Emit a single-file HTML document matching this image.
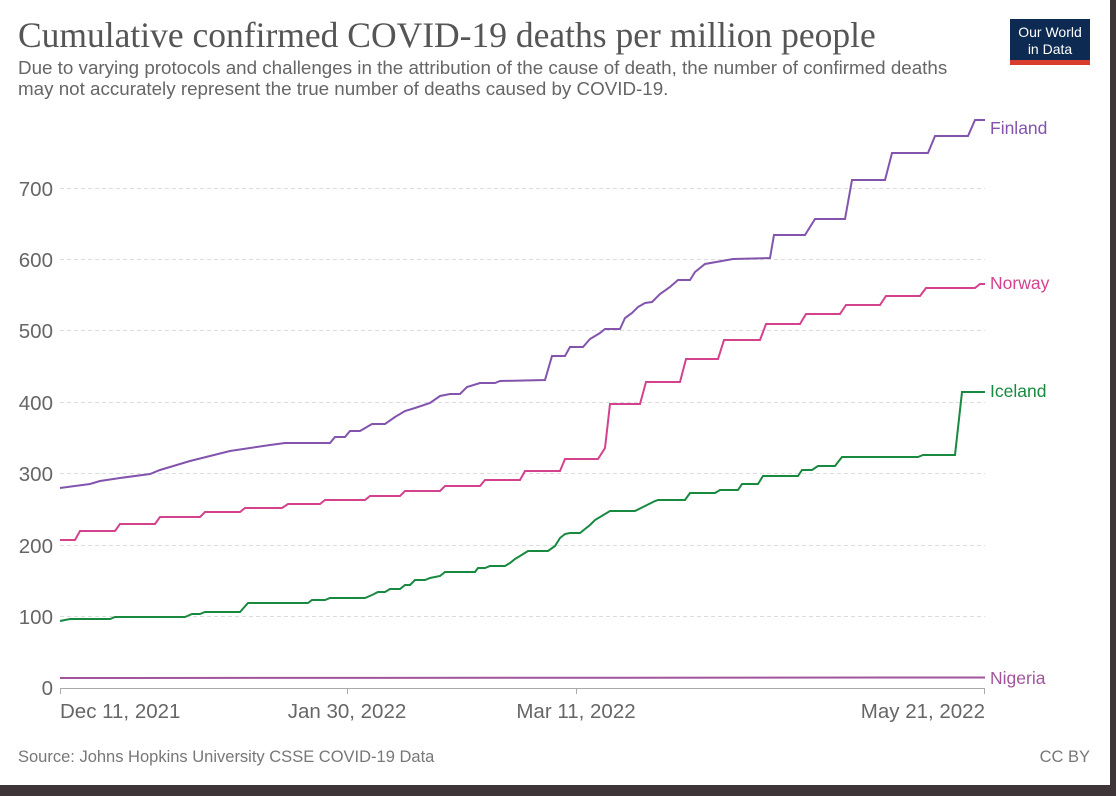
<!DOCTYPE html>
<html><head><meta charset="utf-8"><style>
html,body{margin:0;padding:0;width:1116px;height:796px;overflow:hidden;background:#3e3538;}
svg{position:absolute;left:0;top:0}
</style></head><body>
<svg width="1116" height="796" xmlns="http://www.w3.org/2000/svg" font-family="Liberation Sans, sans-serif">
<rect x="0" y="0" width="1110" height="785" fill="#fff"/>
<text x="18" y="47" font-family="Liberation Serif, serif" font-size="35.5" fill="#555">Cumulative confirmed COVID-19 deaths per million people</text>
<text x="18" y="74" font-size="18.8" fill="#666">Due to varying protocols and challenges in the attribution of the cause of death, the number of confirmed deaths</text>
<text x="18" y="95" font-size="18.8" fill="#666">may not accurately represent the true number of deaths caused by COVID-19.</text>
<rect x="1010" y="19" width="80" height="41" fill="#0d2a52"/>
<rect x="1010" y="60" width="80" height="5" fill="#d73c2c"/>
<text x="1050" y="37" font-size="14" fill="#fff" text-anchor="middle">Our World</text>
<text x="1050" y="54" font-size="14" fill="#fff" text-anchor="middle">in Data</text>
<g stroke="#ddd" stroke-dasharray="4,3" stroke-width="1">
<line x1="60" x2="985" y1="616.5" y2="616.5"/><line x1="60" x2="985" y1="545.5" y2="545.5"/>
<line x1="60" x2="985" y1="473.5" y2="473.5"/><line x1="60" x2="985" y1="402.5" y2="402.5"/>
<line x1="60" x2="985" y1="330.5" y2="330.5"/><line x1="60" x2="985" y1="259.5" y2="259.5"/>
<line x1="60" x2="985" y1="188.5" y2="188.5"/>
</g>
<g font-size="20.5" fill="#666" text-anchor="end">
<text x="53" y="695">0</text><text x="53" y="624">100</text><text x="53" y="553">200</text>
<text x="53" y="481">300</text><text x="53" y="410">400</text><text x="53" y="338">500</text>
<text x="53" y="267">600</text><text x="53" y="196">700</text>
</g>
<line x1="60" x2="985" y1="688.5" y2="688.5" stroke="#aaa"/>
<g stroke="#aaa"><line x1="60.5" x2="60.5" y1="688" y2="694"/><line x1="347.5" x2="347.5" y1="688" y2="694"/><line x1="576.5" x2="576.5" y1="688" y2="694"/><line x1="984.5" x2="984.5" y1="688" y2="694"/></g>
<g font-size="20.5" fill="#666">
<text x="60" y="718">Dec 11, 2021</text><text x="347" y="718" text-anchor="middle">Jan 30, 2022</text>
<text x="576" y="718" text-anchor="middle">Mar 11, 2022</text><text x="985" y="718" text-anchor="end">May 21, 2022</text>
</g>
<g fill="none" stroke-width="2">
<polyline stroke="#a2559c" points="60,678 985,677.5"/>
<polyline stroke="#178a3f" points="60,621 70,619 110,619 115,617 185,617 192,614 200,614 205,612 240,612 248,603 308,603 312,600 325,600 330,598 365,598 372,595 378,592 385,592 390,589 400,589 405,585 410,585 415,580 425,580 430,578 440,576 445,572 475,572 478,568 485,568 490,566 505,566 510,563 515,559 520,556 528,551 548,551 555,546 560,538 565,534 570,533 580,533 585,529 590,525 595,520 610,511 635,511 645,506 655,501 658,500 685,500 690,493 715,493 720,490 738,490 742,484 758,484 763,476 798,476 802,470 812,470 818,466 835,466 842,457 918,457 923,455 955,455 962,392 985,392"/>
<polyline stroke="#d4428e" points="60,540 75,540 80,531 115,531 120,524 155,524 160,517 200,517 205,512 240,512 245,508 282,508 288,504 320,504 325,500 365,500 370,496 400,496 405,491 440,491 445,486 480,486 485,480 520,480 525,471 560,471 565,459 598,459 605,448 610,404 640,404 646,382 680,382 686,359 718,359 724,340 760,340 766,324 800,324 806,314 840,314 846,305 880,305 886,296 920,296 926,288 975,288 980,284 985,284"/>
<polyline stroke="#8254ae" points="60,488 90,484 100,481 120,478 150,474 160,470 190,461 230,451 270,445 285,443 330,443 335,437 345,437 350,431 360,431 372,424 385,424 395,417 405,411 415,408 430,403 440,396 450,394 460,394 467,387 480,383 495,383 500,381 545,380 552,356 565,356 570,347 583,347 590,339 600,333 605,329 620,329 625,318 632,313 638,307 645,303 652,302 660,294 670,287 678,280 690,280 695,272 705,264 733,259 770,258 774,235 805,235 815,219 845,219 852,180 885,180 892,153 928,153 935,136 968,136 975,120 985,120"/>
</g>
<g font-size="17.5">
<text x="990" y="134" fill="#8254ae">Finland</text>
<text x="990" y="289" fill="#d4428e">Norway</text>
<text x="990" y="397" fill="#178a3f">Iceland</text>
<text x="990" y="684" fill="#a2559c">Nigeria</text>
</g>
<text x="18" y="762" font-size="16.5" fill="#777">Source: Johns Hopkins University CSSE COVID-19 Data</text>
<text x="1090" y="762" font-size="16.5" fill="#777" text-anchor="end">CC BY</text>
</svg>
</body></html>
